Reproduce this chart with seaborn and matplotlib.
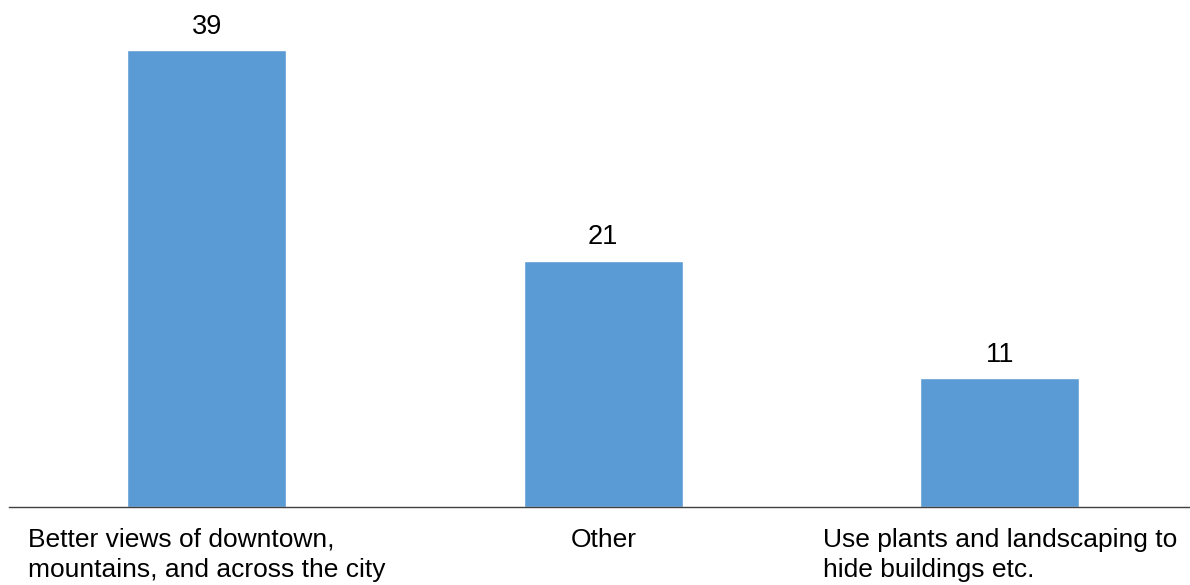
import matplotlib
matplotlib.use("Agg")
import matplotlib.pyplot as plt
import seaborn as sns
import pandas as pd

categories = [
    "Better views of downtown,\nmountains, and across the city",
    "Other",
    "Use plants and landscaping to\nhide buildings etc.",
]
counts = [39, 21, 11]

sns.set_style("white")
plt.rcParams["font.family"] = ["Liberation Sans", "DejaVu Sans"]

df = pd.DataFrame({"category": categories, "count": counts})

fig = plt.figure(figsize=(11.9, 5.85), dpi=100)
ax = fig.add_axes([8.5 / 1190, 78 / 585, 1189.5 / 1190, 507 / 585])

sns.barplot(data=df, x="category", y="count", color="#5B9BD5",
            width=0.4, saturation=1, ax=ax)

ax.set_xlim(-0.5, 2.5)
ax.set_ylim(0, 43.26)
ax.set_xlabel("")
ax.set_ylabel("")
ax.set_yticks([])

for i, v in enumerate(counts):
    ax.annotate(str(v), (i, v), xytext=(0, 7.5), textcoords="offset points",
                ha="center", va="bottom", fontsize=19.5, color="black")

ax.tick_params(axis="x", length=0, pad=15, labelsize=19, colors="black")
for lbl in ax.get_xticklabels():
    lbl.set_multialignment("left")
    lbl.set_linespacing(1.3)

for side in ["top", "right", "left"]:
    ax.spines[side].set_visible(False)
ax.spines["bottom"].set_color("#404040")
ax.spines["bottom"].set_linewidth(1.0)

fig.savefig("out.png", dpi=100)
